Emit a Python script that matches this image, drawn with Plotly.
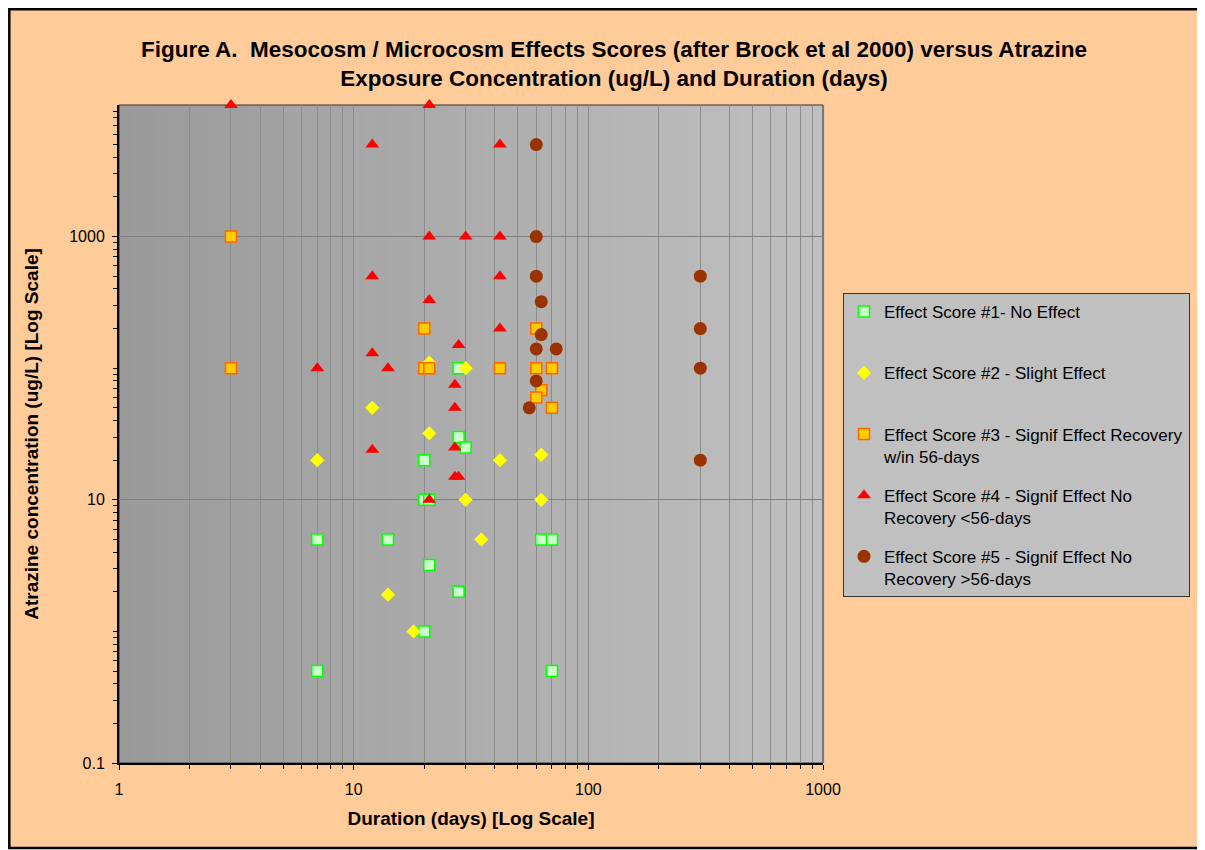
import plotly.graph_objects as go

FONT = "Arial, Liberation Sans, sans-serif"

# Effect score #1 - no effect
score1_days = [28, 28, 30, 20, 20, 21, 7, 14, 63, 70, 21, 28, 20, 7, 70]
score1_conc = [100, 30, 25, 20, 10, 10, 5, 5, 5, 5, 3.2, 2, 1, 0.5, 0.5]

# Effect score #2 - slight effect
score2_days = [21, 30, 12, 21, 7, 42, 63, 30, 63, 35, 14, 18]
score2_conc = [110, 100, 50, 32, 20, 20, 22, 10, 10, 5, 1.9, 1]

# Effect score #3 - significant effect, recovery within 56 days
score3_days = [3, 20, 60, 3, 20, 21, 42, 60, 70, 63, 60, 70]
score3_conc = [1000, 200, 200, 100, 100, 100, 100, 100, 100, 68, 60, 50]

# Effect score #4 - significant effect, no recovery < 56 days
score4_days = [3, 21, 12, 42, 21, 30, 42, 12, 42, 21, 42, 28, 12, 7, 14, 27, 27, 27, 12, 27, 28, 21]
score4_conc = [10000, 10000, 5000, 5000, 1000, 1000, 1000, 500, 500, 330, 200, 150, 130, 100, 100,
               75, 50, 25, 24, 15, 15, 10]

# Effect score #5 - significant effect, no recovery > 56 days
score5_days = [60, 60, 60, 300, 63, 300, 63, 60, 73, 300, 60, 56, 300]
score5_conc = [5000, 1000, 500, 500, 320, 200, 180, 140, 140, 100, 80, 50, 20]

x_ticks = [1, 10, 100, 1000]
y_ticks = [0.1, 10, 1000]

series = [
    ("Effect Score #1- No Effect<br> ", score1_days, score1_conc,
     dict(symbol="square", size=11, color="#CCFFCC", line=dict(color="#00FF00", width=1.5))),
    ("Effect Score #2 - Slight Effect<br> ", score2_days, score2_conc,
     dict(symbol="diamond", size=11, color="#FFFF00", line=dict(width=0))),
    ("Effect Score #3 - Signif Effect Recovery<br>w/in 56-days", score3_days, score3_conc,
     dict(symbol="square", size=11, color="#FFCC00", line=dict(color="#FF6600", width=1.5))),
    ("Effect Score #4 - Signif Effect No<br>Recovery &lt;56-days", score4_days, score4_conc,
     dict(symbol="triangle-up", size=12, color="#FF0000", line=dict(width=0))),
    ("Effect Score #5 - Signif Effect No<br>Recovery &gt;56-days", score5_days, score5_conc,
     dict(symbol="circle", size=13, color="#993300", line=dict(width=0))),
]

fig = go.Figure()
for name, days, conc, marker in series:
    fig.add_trace(go.Scatter(
        x=days, y=conc, mode="markers", name=name, legendgroup=name,
        marker=marker, cliponaxis=False,
    ))

# page has an 8px body margin, so the figure is a bit smaller than the window
W, H = 1197, 842
ml, mr, mt, mb = 111, 382, 97, 87
pw, ph = W - ml - mr, H - mt - mb


def px_x(p):
    return (p - ml) / pw


def px_y(p):
    return (H - mb - p) / ph


shapes = []
# outer chart area with black frame
shapes.append(dict(
    type="rect", xref="paper", yref="paper",
    x0=px_x(1.3), x1=px_x(1194), y0=px_y(840), y1=px_y(1.3),
    fillcolor="#FFCC99", line=dict(color="black", width=2.5), layer="below",
))
# plot area grey gradient
n_strips = 60
for i in range(n_strips):
    g = int(round(154 + (192 - 154) * i / (n_strips - 1)))
    shapes.append(dict(
        type="rect", xref="paper", yref="paper",
        x0=i / n_strips, x1=(i + 1) / n_strips + 0.002, y0=0, y1=1,
        fillcolor=f"rgb({g},{g},{g})", line=dict(width=0), layer="below",
    ))
# thin frame on top / right of plot area
shapes.append(dict(
    type="rect", xref="paper", yref="paper", x0=0, x1=1, y0=0, y1=1,
    line=dict(color="#333333", width=1), layer="below",
))

minor_vals = [m * 10 ** k for k in range(-1, 4) for m in range(2, 10)]

fig.update_layout(
    template="none",
    width=W, height=H,
    margin=dict(l=ml, r=mr, t=mt, b=mb, autoexpand=False),
    paper_bgcolor="white",
    plot_bgcolor="rgba(0,0,0,0)",
    font=dict(family=FONT, size=16, color="black"),
    title=dict(
        text="Figure A.&nbsp; Mesocosm / Microcosm Effects Scores (after Brock et al 2000) versus Atrazine"
             "<br>Exposure Concentration (ug/L) and Duration (days)",
        font=dict(family=FONT, size=22.5, color="black", weight="bold"),
        x=606 / W, xanchor="center", xref="container",
        y=1 - 49 / H, yanchor="top", yref="container",
    ),
    legend=dict(
        x=px_x(835), y=px_y(285), xanchor="left", yanchor="top",
        bgcolor="#C0C0C0", bordercolor="#333333", borderwidth=1,
        font=dict(family=FONT, size=17, color="black"),
        valign="top", tracegroupgap=14, itemwidth=30,
    ),
    shapes=shapes,
)

fig.update_xaxes(
    type="log", range=[0, 3],
    tickvals=x_ticks, ticktext=[str(v) for v in x_ticks],
    ticks="outside", ticklen=5, tickcolor="black", ticklabelstandoff=6,
    showline=True, linecolor="black", linewidth=2,
    showgrid=True, gridcolor="#8C8C8C", gridwidth=1, zeroline=False,
    minor=dict(tickvals=minor_vals, ticks="outside", ticklen=4, tickcolor="black",
               showgrid=True, gridcolor="#8C8C8C", gridwidth=1),
    title=dict(text="Duration (days) [Log Scale]", standoff=14,
               font=dict(family=FONT, size=19, color="black", weight="bold")),
    automargin=False,
)

fig.update_yaxes(
    type="log", range=[-1, 4],
    tickvals=y_ticks, ticktext=[str(v) for v in y_ticks],
    ticks="outside", ticklen=5, tickcolor="black", ticklabelstandoff=4,
    showline=True, linecolor="black", linewidth=2,
    showgrid=True, gridcolor="#7F7F7F", gridwidth=1, zeroline=False,
    minor=dict(tickvals=minor_vals + [1, 100], ticks="outside", ticklen=4, tickcolor="black",
               showgrid=False),
    title=dict(text="Atrazine concentration (ug/L) [Log Scale]", standoff=26,
               font=dict(family=FONT, size=19, color="black", weight="bold")),
    automargin=False,
)

fig.write_html("out.html")
